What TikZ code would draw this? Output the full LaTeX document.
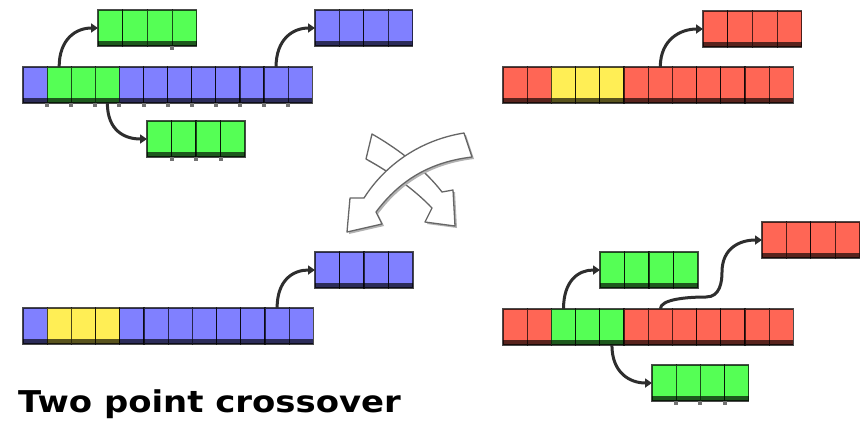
\documentclass[tikz,border=0pt]{standalone}
\usepackage{fontspec}
\newfontfamily\titlefont{DejaVu Sans}
\usetikzlibrary{arrows.meta}

\definecolor{geneblue}{HTML}{8080FF}
\definecolor{genegreen}{HTML}{55FF55}
\definecolor{genered}{HTML}{FF6655}
\definecolor{geneyellow}{HTML}{FFEE55}
\definecolor{linkgray}{HTML}{2E2E2E}

\tikzset{
  gene/.style={draw=black, draw opacity=0.7, line width=1.2pt, inner sep=0pt,
    outer sep=0pt, minimum height=36pt, anchor=north west,
    path picture={\fill[black, opacity=0.65]
      (path picture bounding box.south west) rectangle
      ([yshift=5pt]path picture bounding box.south east);}},
  link/.style={draw=linkgray, line width=3pt, -{Triangle[length=7pt,width=9pt]}},
  joint/.style={fill=black!55},
  bigarrow/.style={fill=white, draw=black!60, line width=1.3pt, line join=round},
  bigshadow/.style={fill=black!30},
  title/.style={font=\titlefont\bfseries\fontsize{30}{36}\selectfont,
    inner sep=0pt, anchor=base west, xscale=1.13},
}

% one chromosome: name prefix, left x, top y, cell width, list of cell colours
\newcommand\chromo[5]{%
  \foreach \c [count=\i] in {#5} {
    \node[gene, fill=\c, minimum width=#4pt] (#1-\i) at ({#2+(\i-1)*#4}, #3) {};
  }}
% small marker hanging below a cell boundary
\newcommand\joint[1]{\fill[joint] ([xshift=-2pt]#1) rectangle ++(4,4);}

\begin{document}
\begin{tikzpicture}[x=1pt, y=-1pt]
\useasboundingbox (0,0) rectangle (866,424);
\fill[white] (0,0) rectangle (866,424);

% parent 1 and its cut pieces
\chromo{A}{23}{67}{24.1}{geneblue,genegreen,genegreen,genegreen,geneblue,geneblue,geneblue,geneblue,geneblue,geneblue,geneblue,geneblue}
\chromo{At}{98}{10}{24.7}{genegreen,genegreen,genegreen,genegreen}
\chromo{Ab}{147}{121}{24.5}{genegreen,genegreen,genegreen,genegreen}
\chromo{Ar}{315}{10}{24.4}{geneblue,geneblue,geneblue,geneblue}
\foreach \i in {1,...,11} {\joint{A-\i.south east}}
\joint{At-3.south east}
\foreach \i in {1,2,3} {\joint{Ab-\i.south east}}

% parent 2
\chromo{B}{503}{67}{24.2}{genered,genered,geneyellow,geneyellow,geneyellow,genered,genered,genered,genered,genered,genered,genered}
\chromo{Br}{703}{11}{24.7}{genered,genered,genered,genered}

% child 1
\chromo{C}{23}{308}{24.2}{geneblue,geneyellow,geneyellow,geneyellow,geneblue,geneblue,geneblue,geneblue,geneblue,geneblue,geneblue,geneblue}
\chromo{Cr}{315}{252}{24.5}{geneblue,geneblue,geneblue,geneblue}

% child 2
\chromo{D}{503}{309}{24.2}{genered,genered,genegreen,genegreen,genegreen,genered,genered,genered,genered,genered,genered,genered}
\chromo{Dg}{600}{252}{24.5}{genegreen,genegreen,genegreen,genegreen}
\chromo{Dr}{762}{222}{24.4}{genered,genered,genered,genered}
\chromo{Db}{652}{365}{24.2}{genegreen,genegreen,genegreen,genegreen}
\foreach \i in {1,2,3} {\joint{Db-\i.south east}}

% links from the chromosomes to their pieces
\draw[link] (A-2.north) .. controls +(0,-28) and +(-22,0) .. (At-1.west);
\draw[link] (A-4.south) .. controls +(0,28) and +(-22,0) .. (Ab-1.west);
\draw[link] (A-11.north) .. controls +(0,-28) and +(-22,0) .. (Ar-1.west);
\draw[link] (B-7.north) .. controls +(0,-28) and +(-22,0) .. (Br-1.west);
\draw[link] (C-11.north) .. controls +(0,-28) and +(-22,0) .. (Cr-1.west);
\draw[link] (D-3.north) .. controls +(0,-28) and +(-22,0) .. (Dg-1.west);
\draw[link] (D-5.south) .. controls +(0,28) and +(-22,0) .. (Db-1.west);
\coordinate (s1) at (706,297);
\coordinate (s2) at (722,272);
\draw[link] (D-7.north) .. controls +(0,-10) and +(-18,0) .. (s1)
  .. controls +(14,0) and +(0,10) .. (s2)
  .. controls +(0,-24) and +(-22,0) .. (Dr-1.west);

% crossing block arrows
\fill[bigshadow, shift={(2,2)}] (372,134) .. controls (400,150) and (425,170) .. (442,192)
  -- (453,190) -- (455,226) -- (425,222) -- (432,208)
  .. controls (415,190) and (390,172) .. (366,159) -- cycle;
\path[bigarrow] (372,134) .. controls (400,150) and (425,170) .. (442,192)
  -- (453,190) -- (455,226) -- (425,222) -- (432,208)
  .. controls (415,190) and (390,172) .. (366,159) -- cycle;
\fill[bigshadow, shift={(2,2)}] (464,133) .. controls (420,140) and (385,165) .. (364,198)
  -- (350,198) -- (347,232) -- (382,224) -- (376,212)
  .. controls (400,180) and (430,162) .. (472,157) -- cycle;
\path[bigarrow] (464,133) .. controls (420,140) and (385,165) .. (364,198)
  -- (350,198) -- (347,232) -- (382,224) -- (376,212)
  .. controls (400,180) and (430,162) .. (472,157) -- cycle;

\node[title] (caption) at (18,412) {Two point crossover};
\end{tikzpicture}
\end{document}
